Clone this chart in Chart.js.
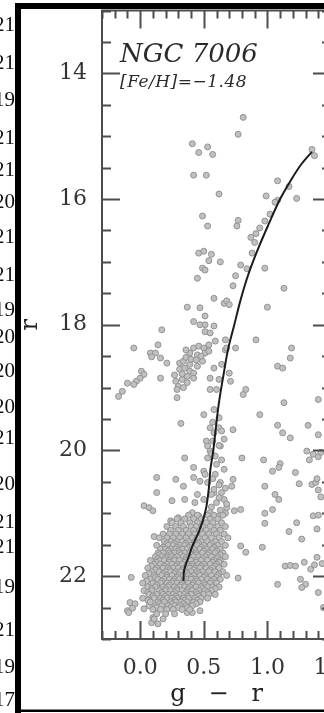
<!DOCTYPE html>
<html>
<head>
<meta charset="utf-8">
<script src="https://cdn.jsdelivr.net/npm/chart.js@4/dist/chart.umd.min.js"></script>
<style>
  html, body { margin: 0; padding: 0; background: #fff; overflow: hidden; width: 324px; height: 713px; }
  #wrap { position: absolute; left: 0; top: 0; width: 340px; height: 713px; }
  canvas { display: block; }
</style>
</head>
<body>
<div id="wrap"><canvas id="cmd" width="340" height="713"></canvas></div>
<script>
// ---- NGC 7006 colour-magnitude diagram: (g - r, r) ----

// Mean ridge line of the cluster sequence
const fiducialMag   = [22.08, 21.90, 21.70, 21.50, 21.30, 21.10, 20.90, 20.60, 20.30, 20.00, 19.60, 19.20, 18.80, 18.40, 18.00, 17.60, 17.20, 16.80, 16.40, 16.00, 15.70, 15.45, 15.25];
const fiducialColor = [0.340, 0.346, 0.380, 0.415, 0.460, 0.495, 0.520, 0.540, 0.552, 0.575, 0.597, 0.622, 0.655, 0.690, 0.740, 0.790, 0.850, 0.925, 1.010, 1.100, 1.185, 1.265, 1.350];

// Bright giants (r < 17.8): [g-r, r]
const giantStars = [
  [0.81,14.70],[0.77,14.97],[0.41,15.12],[0.53,15.17],[0.46,15.26],[0.57,15.29],[0.42,15.62],[0.52,15.62],
  [0.62,15.92],[1.08,15.71],[0.99,15.95],[1.17,15.80],[1.23,15.99],[1.35,15.21],[1.37,15.31],[1.08,16.02],
  [0.49,16.27],[0.53,16.43],[0.77,16.34],[0.76,16.43],[0.87,16.61],[0.91,16.55],[0.94,16.46],[0.98,16.35],
  [1.02,16.24],[1.06,16.05],[0.90,16.69],[0.46,16.86],[0.50,16.83],[0.56,16.88],[0.54,16.98],[0.63,17.00],
  [0.49,17.10],[0.51,17.13],[0.45,17.26],[0.88,16.86],[0.79,17.05],[0.84,17.11],[0.75,17.22],[0.98,17.10],
  [0.73,17.38],[1.13,17.42],[0.58,17.58],[0.66,17.66],[0.68,17.62],[0.70,17.68],[0.37,17.72],[0.47,17.73],
  [1.00,17.72]
];

// Horizontal branch, red clump and upper giant branch (17.8 < r < 20)
const branchStars = [
  [0.51,17.86],[0.42,17.95],[0.47,18.00],[0.51,18.00],[0.58,18.02],[0.17,18.08],[0.51,18.11],[0.55,18.13],
  [0.59,18.26],[0.67,18.24],[0.91,18.24],[-0.05,18.37],[0.14,18.32],[0.08,18.45],[0.12,18.45],[0.16,18.53],
  [0.09,18.51],[0.21,18.61],[0.42,18.37],[0.46,18.34],[0.50,18.37],[0.54,18.32],[0.39,18.45],[0.45,18.48],
  [0.51,18.45],[0.54,18.42],[0.67,18.40],[0.68,18.37],[0.75,18.37],[1.19,18.37],[1.18,18.53],[0.31,18.61],
  [0.34,18.58],[0.39,18.63],[0.45,18.66],[0.49,18.58],[0.31,18.71],[0.35,18.69],[0.39,18.74],[0.42,18.77],
  [0.58,18.69],[0.64,18.63],[0.70,18.77],[1.08,18.66],[1.12,18.69],[0.01,18.74],[0.03,18.79],[0.00,18.85],
  [-0.03,18.90],[-0.05,18.95],[-0.10,18.93],[-0.14,19.06],[-0.17,19.14],[0.16,18.85],[0.28,18.90],[0.30,18.98],
  [0.29,19.03],[0.34,19.00],[0.33,18.87],[0.29,19.16],[0.37,18.82],[0.42,18.85],[0.55,18.85],[0.62,18.87],
  [0.71,18.90],[0.55,19.03],[0.60,19.03],[0.83,19.03],[0.81,19.11],[0.36,18.52],[0.40,18.55],[0.33,18.78],
  [0.37,18.92],[0.44,18.56],[0.36,18.40],[0.48,18.50],[0.27,18.80],[0.50,19.43],[0.32,19.57],[0.55,19.64],
  [0.62,19.64],[0.64,19.69],[0.58,19.72],[0.73,19.67],[0.58,19.35],[0.62,19.48],[0.57,19.55],[0.66,19.82],
  [0.52,19.85],[0.53,19.93],[0.63,19.93]
];

// Lower giant branch and subgiants (20 < r < 21.4)
const subgiantStars = [
  [0.55,20.01],[0.59,20.09],[0.53,20.12],[0.35,20.12],[0.50,20.33],[0.51,20.38],[0.47,20.49],[0.53,20.51],
  [0.13,20.43],[0.28,20.46],[0.42,20.43],[0.63,20.51],[0.42,20.27],[0.34,20.57],[0.13,20.67],[0.25,20.80],
  [0.03,20.88],[0.07,20.91],[0.10,20.96],[0.35,20.78],[0.45,20.70],[0.50,20.78],[0.58,20.67],[0.64,20.67],
  [0.66,20.78],[0.60,20.83],[0.68,20.91],[0.24,21.12],[0.30,21.07],[0.11,21.37],[0.18,21.54],[0.43,20.83],
  [0.41,20.99],[0.46,21.04],[0.55,20.99],[0.62,21.04],[0.59,20.38],[0.58,20.62],[0.57,19.85],[0.62,19.92],
  [0.56,20.05],[0.64,20.15],[0.60,20.22],[0.66,20.30],[0.57,20.45],[0.62,20.55],[0.67,20.60],[0.56,20.70],
  [0.62,20.75],[0.68,20.85],[0.56,20.90],[0.63,20.95],[0.67,21.00]
];

// Turn-off region, one row per r value: [r, [g-r ...]]
const turnoffRows = [
  [21.03, [0.38,0.45,0.53,0.58,0.65]],
  [21.09, [0.29,0.35,0.42,0.48,0.55,0.61]],
  [21.15, [0.25,0.32,0.39,0.45,0.52,0.57,0.64]],
  [21.21, [0.21,0.28,0.34,0.40,0.44,0.49,0.55,0.61,0.67]],
  [21.27, [0.24,0.30,0.36,0.42,0.47,0.52,0.58,0.63]],
  [21.33, [0.18,0.23,0.28,0.33,0.38,0.43,0.49,0.54,0.60,0.66]],
  [21.39, [0.15,0.21,0.26,0.31,0.36,0.41,0.45,0.51,0.56,0.62,0.69]],
  [21.45, [0.19,0.24,0.29,0.33,0.38,0.43,0.48,0.53,0.59,0.64]],
  [21.48, [0.21,0.27,0.36,0.46,0.56]],
  [21.51, [0.13,0.22,0.26,0.31,0.35,0.40,0.45,0.50,0.55,0.61,0.67]],
  [21.54, [0.18,0.29,0.38,0.48,0.58]],
  [21.57, [0.16,0.20,0.24,0.28,0.33,0.37,0.42,0.47,0.52,0.57,0.63]],
  [21.60, [0.22,0.30,0.40,0.50,0.60]],
  [21.63, [0.14,0.18,0.23,0.27,0.31,0.35,0.39,0.44,0.49,0.54,0.59,0.65]],
  [21.66, [0.15,0.24,0.32,0.44,0.53,0.63]],
  [21.69, [0.12,0.17,0.21,0.25,0.29,0.34,0.38,0.42,0.46,0.51,0.56,0.61,0.67]],
  [21.72, [0.14,0.20,0.27,0.36,0.49,0.60]],
  [21.75, [0.08,0.15,0.19,0.23,0.27,0.31,0.36,0.40,0.44,0.48,0.53,0.58,0.63]],
  [21.78, [0.13,0.23,0.35,0.44,0.57,0.62]],
  [21.81, [0.11,0.16,0.21,0.25,0.29,0.33,0.37,0.41,0.46,0.50,0.55,0.60,0.66]],
  [21.84, [0.09,0.19,0.28,0.41,0.48,0.59]],
  [21.87, [0.06,0.13,0.18,0.22,0.26,0.30,0.35,0.39,0.43,0.47,0.52,0.57,0.62]],
  [21.90, [0.12,0.23,0.33,0.42,0.55]],
  [21.93, [0.09,0.15,0.20,0.24,0.28,0.32,0.36,0.40,0.45,0.49,0.54,0.59,0.65]],
  [21.96, [0.07,0.18,0.27,0.37,0.46,0.62]],
  [21.99, [0.04,0.11,0.17,0.21,0.25,0.30,0.34,0.38,0.42,0.47,0.51,0.56,0.61,0.68]],
  [22.02, [0.12,0.21,0.29,0.40,0.50,0.60]],
  [22.05, [0.08,0.14,0.19,0.23,0.27,0.31,0.36,0.40,0.44,0.48,0.53,0.58,0.63]],
  [22.08, [0.05,0.17,0.26,0.34,0.45,0.56]],
  [22.11, [0.02,0.10,0.16,0.21,0.25,0.29,0.33,0.38,0.42,0.46,0.50,0.55,0.60]],
  [22.14, [0.13,0.23,0.32,0.41,0.51]],
  [22.17, [0.06,0.12,0.18,0.22,0.27,0.31,0.35,0.39,0.44,0.48,0.53,0.57,0.62]],
  [22.20, [0.09,0.20,0.29,0.38,0.49,0.59]],
  [22.23, [0.03,0.09,0.15,0.20,0.24,0.29,0.33,0.37,0.41,0.46,0.51,0.56]],
  [22.26, [0.06,0.17,0.27,0.36,0.44,0.53]],
  [22.29, [0.07,0.13,0.18,0.22,0.26,0.31,0.35,0.40,0.45,0.50,0.54,0.59]],
  [22.32, [0.10,0.20,0.28,0.37,0.46]],
  [22.35, [0.02,0.11,0.16,0.21,0.25,0.29,0.34,0.38,0.43,0.48,0.53]],
  [22.38, [0.06,0.18,0.27,0.35,0.45]],
  [22.41, [0.08,0.14,0.19,0.24,0.28,0.32,0.37,0.42,0.47]],
  [22.44, [0.15,0.25,0.34,0.44]],
  [22.47, [0.12,0.17,0.22,0.27,0.31,0.36,0.41]],
  [22.50, [0.13,0.24,0.30,0.37]],
  [22.53, [0.10,0.16,0.21,0.26,0.33,0.39]],
  [22.60, [0.13,0.20,0.27]],
  [22.68, [0.11,0.18]],
  [22.76, [0.14]]
];

// Field stars away from the cluster sequence
const fieldStars = [
  [1.13,19.24],[1.40,19.19],[0.94,19.43],[1.08,19.60],[1.12,19.72],[1.18,19.80],[1.32,19.60],[1.40,19.75],
  [0.80,20.12],[0.97,20.15],[1.04,20.33],[1.10,20.21],[1.09,20.27],[1.22,20.35],[1.25,20.53],[1.31,20.01],
  [1.36,20.06],[1.33,20.15],[1.40,20.10],[1.42,20.03],[1.35,20.54],[1.38,20.51],[1.39,20.45],[1.42,20.74],
  [1.40,20.63],[0.73,20.46],[0.72,20.57],[0.98,20.57],[1.06,20.70],[1.09,20.78],[1.04,20.94],[0.98,21.00],
  [0.98,21.16],[0.74,20.96],[0.79,20.94],[1.17,21.29],[1.23,21.15],[1.27,21.41],[1.36,21.04],[1.40,21.03],
  [1.39,21.25],[0.79,21.52],[0.83,21.62],[0.96,21.54],[1.14,21.84],[1.18,21.83],[1.22,21.84],[1.29,21.78],
  [1.34,21.89],[1.37,21.82],[1.39,21.70],[1.43,21.80],[0.77,22.03],[1.08,22.13],[1.26,22.05],[1.30,22.13],
  [1.27,22.18],[1.40,22.26],[1.44,22.50],[-0.07,22.02],[-0.08,22.42],[-0.04,22.44],[-0.10,22.55],[-0.06,22.51],
  [0.03,22.52],[0.07,22.47],[0.09,22.74],[0.10,22.66],[0.37,22.58],[0.41,22.58],[0.47,22.55],[-0.09,22.58]
];

// Axis ticks
const xTickValues = [0.0, 0.5, 1.0, 1.5];
const yTickValues = [14, 16, 18, 20, 22];

// Labels running down the left margin
const marginLabels = ['2021','2021','2019','2021','2021','2020','2021','2021','2019','2020',
                      '2020','2020','2021','2020','2021','2021','2019','2021','2019','2017'];
const marginLabelY = [25, 63, 100, 138, 170, 202, 237, 275, 310, 337, 371, 407, 438, 484, 522, 547, 587, 630, 667, 700];

// ---- build datasets ----
const stars = [];
[giantStars, branchStars, subgiantStars, fieldStars].forEach(list =>
  list.forEach(([c, m]) => stars.push({ x: c, y: m })));
turnoffRows.forEach(([m, colors]) => colors.forEach(c => stars.push({ x: c, y: m })));

const ridge = fiducialColor.map((c, i) => ({ x: c, y: fiducialMag[i] }));

// Fixed scale sizes, no extra room reserved for overhanging tick labels
function fixBox(size, key) {
  return s => {
    s[key] = size;
    s.paddingLeft = 0; s.paddingRight = 0; s.paddingTop = 0; s.paddingBottom = 0;
  };
}

// Frame with inward major/minor ticks on all four sides, plus annotations
const framePlugin = {
  id: 'frame',
  afterDatasetsDraw(chart) {
    const { ctx, chartArea: a, scales: { x, y } } = chart;
    ctx.save();
    ctx.strokeStyle = '#4d4d4d';
    ctx.lineWidth = 2;
    ctx.strokeRect(a.left, a.top, a.right - a.left, a.bottom - a.top);
    ctx.beginPath();
    for (let i = -3; i <= 15; i++) {
      const v = i / 10;
      const px = Math.round(x.getPixelForValue(v)) + 0.5;
      const len = (i % 5 === 0) ? 18 : 8;
      ctx.moveTo(px, a.bottom); ctx.lineTo(px, a.bottom - len);
      ctx.moveTo(px, a.top); ctx.lineTo(px, a.top + len);
    }
    for (let i = 26; i <= 46; i++) {
      const v = i / 2;
      const py = Math.round(y.getPixelForValue(v)) + 0.5;
      const len = (i % 4 === 0) ? 18 : 9;
      ctx.moveTo(a.left, py); ctx.lineTo(a.left + len, py);
      ctx.moveTo(a.right, py); ctx.lineTo(a.right - len, py);
    }
    ctx.stroke();

    // cluster name and metallicity
    ctx.fillStyle = '#2a2a2a';
    ctx.textAlign = 'left';
    ctx.textBaseline = 'alphabetic';
    ctx.font = 'italic 26px "DejaVu Serif"';
    ctx.fillText('NGC 7006', a.left + 18, 62);
    ctx.font = 'italic 17px "DejaVu Serif"';
    if ('letterSpacing' in ctx) ctx.letterSpacing = '0.5px';
    ctx.fillText('[Fe/H]=\u22121.48', a.left + 18, 87);
    ctx.restore();
  },
  afterDraw(chart) {
    const { ctx } = chart;
    ctx.save();
    ctx.fillStyle = '#000';
    ctx.fillRect(15, 3, 330, 6);
    ctx.fillRect(15, 3, 6, 712);
    ctx.fillRect(21, 709.5, 330, 2.5);
    ctx.fillStyle = '#111';
    ctx.font = '21px "Liberation Serif"';
    ctx.textAlign = 'right';
    ctx.textBaseline = 'middle';
    marginLabels.forEach((t, i) => ctx.fillText(t, 15, marginLabelY[i]));
    ctx.restore();
  }
};

new Chart(document.getElementById('cmd'), {
  type: 'scatter',
  data: {
    datasets: [
      {
        type: 'line',
        data: ridge,
        borderColor: '#1c1c1c',
        borderWidth: 2,
        pointRadius: 0,
        tension: 0.35,
        fill: false
      },
      {
        data: stars,
        pointRadius: 3,
        pointBorderWidth: 1,
        pointBackgroundColor: '#c0c0c0',
        pointBorderColor: '#929292'
      }
    ]
  },
  options: {
    responsive: false,
    animation: false,
    devicePixelRatio: 1,
    layout: { autoPadding: false, padding: { left: 16, top: 10.5, right: 9, bottom: 0 } },
    plugins: { legend: { display: false }, tooltip: { enabled: false } },
    scales: {
      x: {
        type: 'linear', min: -0.3, max: 1.5,
        grid: { display: false, drawTicks: false },
        border: { display: false },
        afterBuildTicks: s => { s.ticks = xTickValues.map(v => ({ value: v })); },
        afterFit: fixBox(74, 'height'),
        ticks: {
          padding: 16, color: '#333', autoSkip: false, maxRotation: 0,
          font: { family: 'DejaVu Serif', size: 22 },
          callback: v => v.toFixed(1)
        },
        title: {
          display: true, text: 'g   \u2212   r', color: '#222',
          font: { family: 'DejaVu Serif', size: 24 },
          padding: { top: 0, bottom: 4 }
        }
      },
      y: {
        type: 'linear', min: 13, max: 23, reverse: true,
        grid: { display: false, drawTicks: false },
        border: { display: false },
        afterBuildTicks: s => { s.ticks = yTickValues.map(v => ({ value: v })); },
        afterFit: fixBox(86, 'width'),
        ticks: {
          padding: 15, color: '#333', autoSkip: false,
          font: { family: 'DejaVu Serif', size: 22 }
        },
        title: {
          display: true, text: 'r', color: '#222',
          font: { family: 'DejaVu Serif', size: 24 },
          padding: { top: 0, bottom: 0 }
        }
      }
    }
  },
  plugins: [framePlugin]
});
</script>
</body>
</html>
